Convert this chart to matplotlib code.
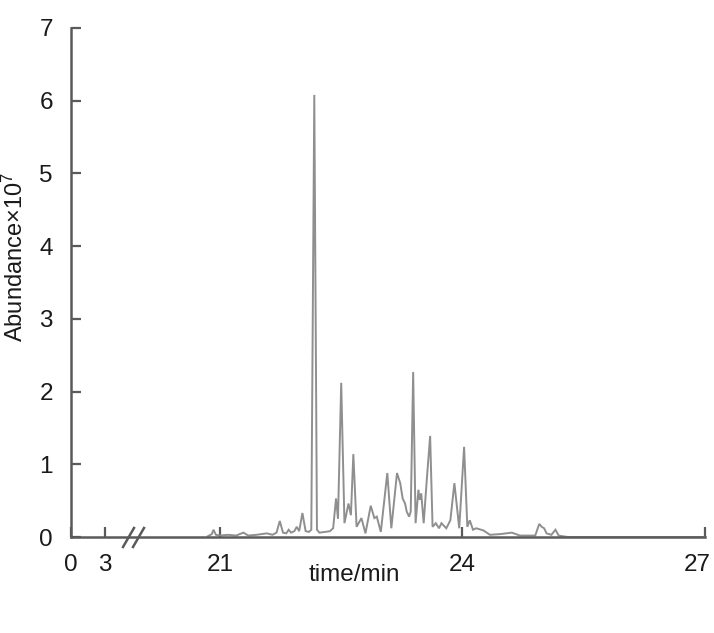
import numpy as np
import matplotlib
matplotlib.use("Agg")
import matplotlib.pyplot as plt
import matplotlib.transforms as mtransforms

plt.rcParams['font.family'] = ['Liberation Sans', 'DejaVu Sans']
plt.rcParams['mathtext.fontset'] = 'custom'
plt.rcParams['mathtext.rm'] = 'Liberation Sans'
plt.rcParams['mathtext.it'] = 'Liberation Sans'

# Retention time (min) and abundance (x10^7)
time_min = [20.85, 20.90, 20.92, 20.95, 21.00, 21.10, 21.20, 21.29, 21.35, 21.45,
            21.58, 21.65, 21.70, 21.74, 21.78, 21.82, 21.85, 21.88, 21.92, 21.95,
            21.98, 22.02, 22.06, 22.10, 22.13, 22.167, 22.20, 22.23, 22.30, 22.36,
            22.40, 22.436, 22.46, 22.50, 22.54, 22.59, 22.62, 22.65, 22.69, 22.75,
            22.80, 22.865, 22.91, 22.94, 22.99, 23.07, 23.12, 23.19, 23.23, 23.26,
            23.29, 23.31, 23.34, 23.36, 23.39, 23.42, 23.455, 23.47, 23.49, 23.52,
            23.56, 23.60, 23.63, 23.67, 23.71, 23.74, 23.80, 23.85, 23.90, 23.96,
            24.02, 24.06, 24.09, 24.13, 24.17, 24.26, 24.34, 24.47, 24.61, 24.71,
            24.90, 24.95, 24.98, 25.01, 25.04, 25.10, 25.15, 25.19, 25.30, 27.00]
abundance = [0.01, 0.04, 0.10, 0.03, 0.02, 0.03, 0.02, 0.06, 0.02, 0.03,
             0.05, 0.03, 0.06, 0.22, 0.06, 0.05, 0.10, 0.06, 0.08, 0.14,
             0.08, 0.33, 0.08, 0.07, 0.10, 6.08, 0.10, 0.06, 0.07, 0.08,
             0.12, 0.53, 0.25, 2.12, 0.19, 0.46, 0.30, 1.14, 0.14, 0.26,
             0.05, 0.43, 0.26, 0.28, 0.07, 0.88, 0.12, 0.88, 0.74, 0.53,
             0.46, 0.35, 0.28, 0.35, 2.27, 0.19, 0.65, 0.51, 0.60, 0.19,
             0.81, 1.39, 0.14, 0.19, 0.12, 0.19, 0.12, 0.23, 0.74, 0.12,
             1.24, 0.14, 0.23, 0.10, 0.12, 0.09, 0.03, 0.04, 0.06, 0.02,
             0.02, 0.18, 0.14, 0.12, 0.05, 0.03, 0.10, 0.02, 0.00, 0.00]

x_ticks = [0, 3, 21, 24, 27]
x_ticklabels = ['0', '3', '21', '24', '27']
y_ticks = [0, 1, 2, 3, 4, 5, 6, 7]

# Broken x axis: 0-~5.6 compressed, gap, then ~20-27
brk_x = [0, 5.65, 19.95, 27]
brk_u = [0, 0.792, 0.7925, 7.8425]

def fwd(x):
    return np.interp(x, brk_x, brk_u)

def inv(u):
    return np.interp(u, brk_u, brk_x)

fig = plt.figure(figsize=(7.14, 6.33), dpi=100)
ax = fig.add_axes([71/714, 1-537/633, 634/714, 509/633])
ax.set_xscale('function', functions=(fwd, inv))
ax.plot(time_min, abundance, color='#8f8f8f', lw=1.4, solid_joinstyle='miter')
ax.set_xlim(0, 27)
ax.set_ylim(0, 7)

axc = '#5a5a5a'
for s in ['top', 'right']:
    ax.spines[s].set_visible(False)
for s in ['left', 'bottom']:
    ax.spines[s].set_color(axc)
    ax.spines[s].set_linewidth(1.8)

ax.set_xticks(x_ticks)
ax.set_xticklabels(x_ticklabels)
ax.set_yticks(y_ticks)
ax.xaxis.set_minor_locator(matplotlib.ticker.NullLocator())
ax.tick_params(axis='both', direction='in', length=7, width=1.6, color=axc,
               labelsize=17.5, labelcolor='#1a1a1a')
ax.tick_params(axis='x', pad=12)
ax.tick_params(axis='y', pad=13)

# nudge the last x tick label left so it stays inside the figure
lab27 = ax.get_xticklabels()[-1]
lab27.set_transform(lab27.get_transform() +
                    mtransforms.ScaledTranslation(-8/100, 0, fig.dpi_scale_trans))

ax.set_xlabel('time/min', fontsize=17.5, color='#1a1a1a')
ax.xaxis.set_label_coords(0.447, -0.075)
ax.xaxis.label.set_va('center')
ax.set_ylabel('Abundance×10$^7$', fontsize=17, color='#1a1a1a')
ax.yaxis.set_label_coords(-0.088, 0.55)
ax.yaxis.label.set_va('center')

# break marks
for x0 in [(123-71)/634, (133-71)/634]:
    ax.plot([x0, x0 + 11/634], [-10/509, 9/509], transform=ax.transAxes,
            color=axc, lw=1.8, clip_on=False)

fig.savefig('out.png', dpi=100)
